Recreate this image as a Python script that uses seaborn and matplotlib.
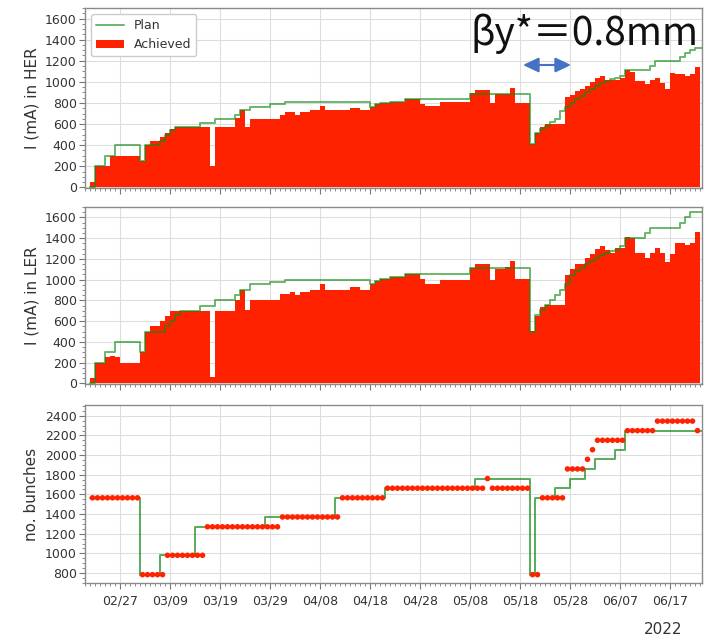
import numpy as np
import pandas as pd
import matplotlib
matplotlib.use("Agg")
import matplotlib.pyplot as plt
import matplotlib.dates as mdates
import matplotlib.ticker as mticker
from matplotlib.lines import Line2D
from matplotlib.patches import Patch, FancyArrowPatch
import seaborn as sns

# ---------------- data ----------------
first_day = "2022-02-21"          # first daily bin
ref_day = "2022-02-27"            # plan change points are given as day offsets from this date

her_achieved = [
    50, 200, 200, 200, 300, 300, 300, 300, 300, 300,
    250, 400, 440, 440, 480, 520, 555, 570, 570, 570,
    570, 570, 570, 570, 200, 570, 570, 570, 570, 660,
    730, 570, 650, 650, 650, 650, 650, 650, 690, 710,
    710, 690, 710, 710, 730, 730, 770, 730, 730, 730,
    730, 730, 750, 750, 730, 730, 760, 790, 800, 800,
    810, 810, 810, 840, 840, 840, 790, 775, 775, 775,
    810, 810, 810, 810, 810, 810, 895, 920, 920, 920,
    800, 885, 885, 885, 940, 795, 795, 795, 410, 520,
    575, 600, 600, 600, 600, 860, 880, 910, 930, 965,
    995, 1035, 1060, 1020, 1015, 1015, 1040, 1115, 1090, 1010,
    1010, 980, 1015, 1040, 990, 935, 1080, 1075, 1075, 1060,
    1070, 1140,
]

ler_achieved = [
    55, 200, 200, 255, 265, 250, 200, 200, 200, 200,
    300, 500, 555, 555, 600, 650, 700, 700, 700, 700,
    700, 700, 700, 700, 60, 700, 700, 700, 700, 800,
    900, 710, 805, 805, 805, 805, 805, 805, 860, 860,
    880, 855, 878, 878, 900, 900, 955, 900, 900, 900,
    900, 900, 925, 925, 900, 900, 960, 990, 1005, 1005,
    1025, 1025, 1025, 1055, 1055, 1055, 1005, 960, 960, 960,
    1000, 1000, 1000, 1000, 1000, 1000, 1115, 1150, 1150, 1150,
    1000, 1105, 1105, 1120, 1175, 1005, 1005, 1005, 505, 645,
    740, 758, 758, 758, 758, 1045, 1105, 1148, 1148, 1205,
    1245, 1300, 1327, 1286, 1254, 1302, 1302, 1408, 1405, 1254,
    1254, 1206, 1260, 1308, 1254, 1174, 1244, 1350, 1350, 1334,
    1350, 1462,
]

bunches_achieved = [
    1565, 1565, 1565, 1565, 1565, 1565, 1565, 1565, 1565, 1565,
    783, 783, 783, 783, 783, 980, 980, 980, 980, 980,
    980, 980, 980, 1270, 1270, 1270, 1270, 1270, 1270, 1270,
    1270, 1270, 1270, 1270, 1270, 1270, 1270, 1270, 1370, 1370,
    1370, 1370, 1370, 1370, 1370, 1370, 1370, 1370, 1370, 1370,
    1565, 1565, 1565, 1565, 1565, 1565, 1565, 1565, 1565, 1663,
    1663, 1663, 1663, 1663, 1663, 1663, 1663, 1663, 1663, 1663,
    1663, 1663, 1663, 1663, 1663, 1663, 1663, 1663, 1663, 1761,
    1663, 1663, 1663, 1663, 1663, 1663, 1663, 1663, 783, 783,
    1565, 1565, 1565, 1565, 1565, 1859, 1859, 1859, 1859, 1957,
    2055, 2151, 2151, 2151, 2151, 2151, 2151, 2249, 2249, 2249,
    2249, 2249, 2249, 2346, 2346, 2346, 2346, 2346, 2346, 2346,
    2346, 2249,
]

her_plan_day = [-6, -5, -3, -1, 4, 5, 8, 9, 10, 11, 16, 19, 23, 24, 26, 30, 33,
                50, 51, 52, 54, 57, 70, 82, 83, 84, 85, 86, 87, 88, 89, 90, 91,
                92, 93, 94, 95, 96, 97, 98, 99, 100, 101, 106, 107, 112, 113,
                114, 115, 118]
her_plan_val = [0, 200, 300, 400, 250, 400, 440, 500, 540, 570, 610, 650, 690, 730, 760, 790, 805,
                765, 790, 800, 810, 840, 885, 410, 520, 550, 585, 615, 650, 720, 760, 800, 840,
                870, 900, 930, 960, 985, 1010, 1030, 1040, 1060, 1115, 1155, 1195, 1240, 1275,
                1300, 1320, 1320]

ler_plan_day = [-6, -5, -3, -1, 4, 5, 9, 10, 11, 12, 16, 19, 23, 24, 26, 30, 33,
                50, 51, 52, 54, 57, 70, 82, 83, 84, 85, 86, 87, 88, 89, 90, 91,
                92, 93, 94, 95, 96, 97, 98, 99, 100, 101, 105, 106, 112, 113,
                114, 118]
ler_plan_val = [0, 200, 300, 400, 300, 500, 550, 600, 660, 700, 750, 800, 855, 900, 955, 975, 1000,
                960, 990, 1005, 1025, 1050, 1110, 500, 660, 710, 760, 805, 855, 900, 960, 1040, 1080,
                1110, 1150, 1180, 1210, 1240, 1260, 1275, 1290, 1320, 1405, 1445, 1500, 1550, 1605,
                1655, 1655]

bunch_plan_day = [-6, 4, 8, 15, 29, 43, 53, 71, 82, 83, 87, 90, 93, 95, 99, 101, 118]
bunch_plan_val = [1565, 783, 980, 1270, 1370, 1565, 1663, 1761, 783, 1565, 1663, 1761,
                  1859, 1957, 2055, 2250, 2250]

major_tick_dates = ["2022-02-27", "2022-03-09", "2022-03-19", "2022-03-29", "2022-04-08",
                    "2022-04-18", "2022-04-28", "2022-05-08", "2022-05-18", "2022-05-28",
                    "2022-06-07", "2022-06-17"]

# ---------------- style ----------------
sns.set_theme(style="whitegrid")
plt.rcParams["font.family"] = ["DejaVu Sans"]

RED = "#ff2200"
GREEN = "#108a10"
GREEN_ALPHA = 0.62
TXT = "#333333"

fig = plt.figure(figsize=(7.22, 6.37), dpi=100)
W, H = 722, 637
def ax_rect(l, t, r, b):
    return [l / W, 1 - b / H, (r - l) / W, (b - t) / H]

ax1 = fig.add_axes(ax_rect(85, 8, 702, 188))
ax2 = fig.add_axes(ax_rect(85, 207, 702, 384))
ax3 = fig.add_axes(ax_rect(85, 405, 702, 583))

d0 = mdates.date2num(pd.Timestamp(first_day))
dref = mdates.date2num(pd.Timestamp(ref_day))
n = len(her_achieved)
edges = d0 + np.arange(n + 1)
centers = d0 + np.arange(n) + 0.5

def draw_current(ax, achieved, plan_day, plan_val, ylabel):
    ax.stairs(achieved, edges, fill=True, color=RED, linewidth=0, zorder=2)
    px = dref + np.array(plan_day, dtype=float)
    sns.lineplot(x=px, y=plan_val, ax=ax, color=GREEN, alpha=GREEN_ALPHA, lw=1.4,
                 drawstyle="steps-post", zorder=3, sort=False, estimator=None)
    ax.set_ylim(-6, 1700)
    ax.yaxis.set_major_locator(mticker.MultipleLocator(200))
    ax.yaxis.set_minor_locator(mticker.MultipleLocator(50))
    ax.set_ylabel(ylabel, fontsize=11, color=TXT)

draw_current(ax1, her_achieved, her_plan_day, her_plan_val, "I (mA) in HER")
draw_current(ax2, ler_achieved, ler_plan_day, ler_plan_val, "I (mA) in LER")

bx = dref + np.array(bunch_plan_day, dtype=float)
sns.lineplot(x=bx, y=bunch_plan_val, ax=ax3, color=GREEN, alpha=0.7, lw=1.4,
             drawstyle="steps-post", zorder=2, sort=False, estimator=None)
sns.scatterplot(x=centers, y=bunches_achieved, ax=ax3, color=RED, s=16,
                edgecolor="none", linewidth=0, zorder=3)
ax3.set_ylim(698, 2510)
ax3.yaxis.set_major_locator(mticker.MultipleLocator(200))
ax3.yaxis.set_minor_locator(mticker.MultipleLocator(50))
ax3.set_ylabel("no. bunches", fontsize=11, color=TXT)

xmin = mdates.date2num(pd.Timestamp("2022-02-20"))
xmax = dref + 116.4
major_locs = mdates.date2num(pd.to_datetime(major_tick_dates))
for ax in (ax1, ax2, ax3):
    ax.set_xlim(xmin, xmax)
    ax.xaxis.set_major_locator(mticker.FixedLocator(major_locs))
    ax.xaxis.set_minor_locator(mticker.MultipleLocator(1))
    ax.xaxis.set_major_formatter(mdates.DateFormatter("%m/%d"))
    ax.grid(True, which="major", color="#dddddd", lw=0.8)
    ax.grid(False, which="minor")
    ax.set_axisbelow(True)
    for s in ax.spines.values():
        s.set_color("#8a8a8a")
        s.set_linewidth(1.0)
    ax.tick_params(axis="both", which="major", direction="out", length=4, width=0.8,
                   color="#777777", labelsize=9, labelcolor=TXT, pad=2,
                   bottom=True, left=True)
    ax.tick_params(axis="both", which="minor", direction="out", length=2, width=0.6,
                   color="#777777", bottom=True, left=True)
    ax.set_xlabel("")
ax1.tick_params(axis="x", labelbottom=False)
ax2.tick_params(axis="x", labelbottom=False)
ax3.tick_params(axis="x", pad=4)

handles = [Line2D([0], [0], color=GREEN, alpha=GREEN_ALPHA, lw=1.4),
           Patch(facecolor=RED, edgecolor="none")]
leg = ax1.legend(handles, ["Plan", "Achieved"], loc="upper left", fontsize=9,
                 frameon=True, framealpha=1, edgecolor="#cccccc", borderaxespad=0.5,
                 handlelength=2.2)
for t in leg.get_texts():
    t.set_color(TXT)

fig.text(585 / W, 1 - 45 / H, "\u03b2y*\uff1d0.8mm", fontsize=28,
         family=["Noto Sans CJK JP", "DejaVu Sans"], color="#111111",
         ha="center", va="baseline")
fig.add_artist(FancyArrowPatch(
    (523 / W, 1 - 65 / H), (571 / W, 1 - 65 / H), transform=fig.transFigure,
    arrowstyle="<|-|>,head_length=0.95,head_width=0.45", mutation_scale=10,
    shrinkA=0, shrinkB=0, color="#4472c4", lw=1.5))

fig.text(663 / W, 1 - 630 / H, "2022", fontsize=11, color=TXT, ha="center", va="center")

fig.savefig("out.png", dpi=100)
